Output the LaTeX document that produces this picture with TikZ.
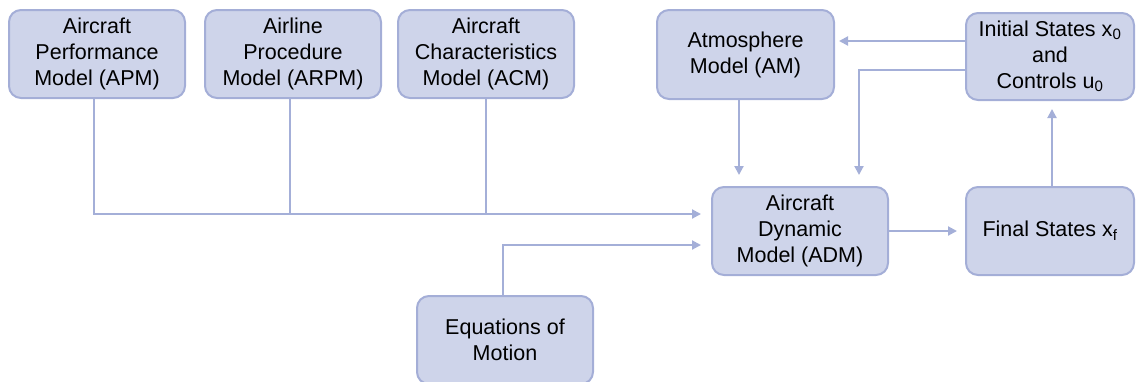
\documentclass[tikz,border=0pt]{standalone}
\usepackage{fontspec}
\setmainfont{Liberation Sans}
\usetikzlibrary{arrows.meta}
\definecolor{boxfill}{HTML}{CED4EA}
\definecolor{boxdraw}{HTML}{A4AED7}
\definecolor{linecol}{HTML}{A4AFD8}
\tikzset{
  blk/.style={draw=boxdraw, fill=boxfill, line width=2pt, rounded corners=12pt,
    minimum width=176pt, minimum height=88pt, align=center, inner sep=0pt,
    font=\fontsize{21.5}{26}\selectfont, text=black},
  conn/.style={draw=linecol, line width=2pt},
  arr/.style={conn, -{Triangle[length=9pt,width=9pt]}},
}
\begin{document}
\begin{tikzpicture}[x=1pt,y=-1pt]
\useasboundingbox (0,0) rectangle (1137,381);
\node[blk] (apm) at (97,54) {Aircraft\\Performance\\Model (APM)};
\node[blk] (arpm) at (293,54) {Airline\\Procedure\\Model (ARPM)};
\node[blk] (acm) at (486,54) {Aircraft\\Characteristics\\Model (ACM)};
\node[blk, minimum width=177pt, minimum height=89pt] (am) at (745.5,54.5) {Atmosphere\\Model (AM)};
\node[blk, minimum width=168pt, minimum height=87pt] (init) at (1050,56.5) {Initial States x\textsubscript{0}\\and\\Controls u\textsubscript{0}};
\node[blk] (adm) at (800,231) {Aircraft\\Dynamic\\Model (ADM)};
\node[blk, minimum width=168pt] (final) at (1050,231) {Final States x\textsubscript{f}};
\node[blk] (eom) at (505,340) {Equations of\\Motion};
% connectors
\draw[arr, shorten >=10pt] ([xshift=-3pt]apm.south) |- ([yshift=17pt]adm.west);
\draw[conn] ([xshift=-3pt]arpm.south) -- ++(0,116);
\draw[conn] (acm.south) -- ++(0,116);
\draw[arr, shorten >=10pt] ([xshift=-2pt]eom.north) |- ([yshift=-14pt]adm.west);
\draw[arr, shorten >=11pt] ([xshift=-6.5pt]am.south) -- ([xshift=-6.5pt]am.south |- adm.north);
\draw[arr, shorten >=4pt] ([yshift=15.5pt]init.west) -- ([yshift=15.5pt]init.west -| am.east);
\draw[arr, shorten >=11pt] ([yshift=-13.5pt]init.west) -| ([xshift=59pt]adm.north);
\draw[arr, shorten >=8pt] (adm) -- (final);
\draw[arr, shorten >=8pt] ([xshift=2pt]final.north) -- ([xshift=2pt]init.south);
\end{tikzpicture}
\end{document}
